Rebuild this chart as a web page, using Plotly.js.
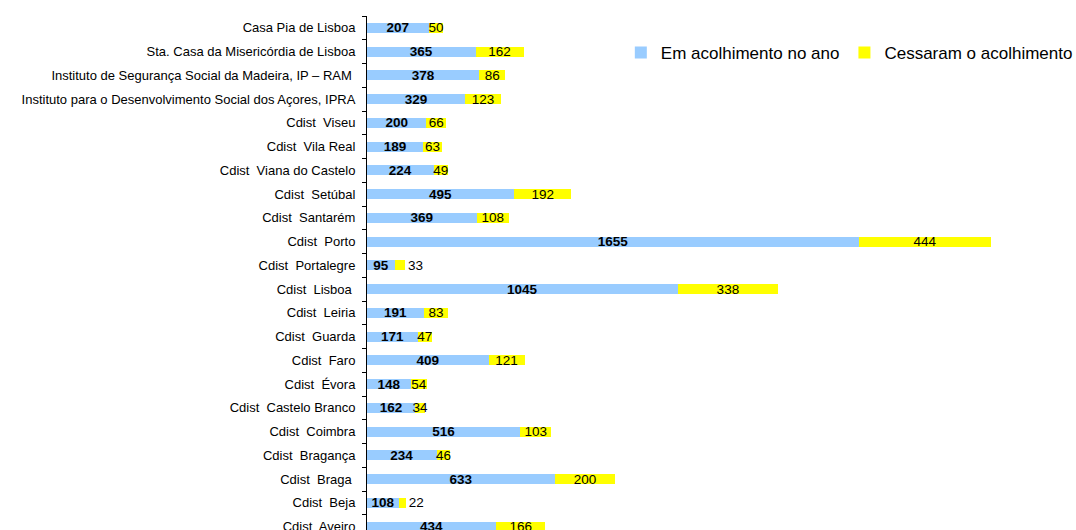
<!DOCTYPE html>
<html>
<head>
<meta charset="utf-8">
<script src="https://cdn.plot.ly/plotly-3.0.1.min.js"></script>
<style>
html,body{margin:0;padding:0;background:#fff;}
#chart{width:1076px;height:530px;}
</style>
</head>
<body>
<div id="chart"></div>
<script>
var categories = [
  "Casa Pia de Lisboa",
  "Sta. Casa da Misericórdia de Lisboa",
  "Instituto de Segurança Social da Madeira, IP – RAM ",
  "Instituto para o Desenvolvimento Social dos Açores, IPRA",
  "Cdist  Viseu",
  "Cdist  Vila Real",
  "Cdist  Viana do Castelo",
  "Cdist  Setúbal",
  "Cdist  Santarém",
  "Cdist  Porto",
  "Cdist  Portalegre",
  "Cdist  Lisboa ",
  "Cdist  Leiria",
  "Cdist  Guarda",
  "Cdist  Faro",
  "Cdist  Évora",
  "Cdist  Castelo Branco",
  "Cdist  Coimbra",
  "Cdist  Bragança",
  "Cdist  Braga ",
  "Cdist  Beja",
  "Cdist  Aveiro"
];
var emAcolhimento = [207, 365, 378, 329, 200, 189, 224, 495, 369, 1655, 95, 1045, 191, 171, 409, 148, 162, 516, 234, 633, 108, 434];
var cessaram = [50, 162, 86, 123, 66, 63, 49, 192, 108, 444, 33, 338, 83, 47, 121, 54, 34, 103, 46, 200, 22, 166];
var seriesNames = ["Em acolhimento no ano", "Cessaram o acolhimento"];

var FONT = "'Liberation Sans', Arial, sans-serif";

// rows whose tiny yellow segment has its label just past the bar end, as in the reference
var outsideLabelRows = ["Cdist  Portalegre", "Cdist  Beja"];
var cessaramTextPos = categories.map(function (c) {
  return outsideLabelRows.indexOf(c) >= 0 ? 'outside' : 'inside';
});

var traces = [
  {
    type: 'bar', orientation: 'h',
    name: seriesNames[0],
    y: categories, x: emAcolhimento,
    text: emAcolhimento.map(String),
    textposition: 'inside', insidetextanchor: 'middle',
    textangle: 0, constraintext: 'none',
    textfont: {family: FONT, size: 13.5, color: '#000', weight: 'bold'},
    marker: {color: '#99CCFF', line: {width: 0}},
    hoverinfo: 'skip'
  },
  {
    type: 'bar', orientation: 'h',
    name: seriesNames[1],
    y: categories, x: cessaram,
    text: cessaram.map(String),
    textposition: cessaramTextPos, insidetextanchor: 'middle',
    textangle: 0, constraintext: 'none', cliponaxis: false,
    textfont: {family: FONT, size: 13.5, color: '#000'},
    marker: {color: '#FFFF00', line: {width: 0}},
    hoverinfo: 'skip'
  }
];

var layout = {
  width: 1076, height: 530,
  barmode: 'stack',
  bargap: 0.58,
  paper_bgcolor: '#fff', plot_bgcolor: '#fff',
  font: {family: FONT, color: '#000'},
  margin: {l: 367, r: 0, t: 16, b: 0, pad: 0, autoexpand: false},
  uniformtext: {mode: 'show', minsize: 13.5},
  showlegend: true,
  legend: {
    orientation: 'h',
    xref: 'paper', yref: 'paper',
    x: 0.358, xanchor: 'left',
    y: 0.928, yanchor: 'middle',
    font: {family: FONT, size: 17, color: '#000'},
    bgcolor: 'rgba(0,0,0,0)',
    traceorder: 'normal'
  },
  xaxis: {
    range: [0, 2385],
    showgrid: false, zeroline: false, showline: false,
    showticklabels: false, ticks: '', fixedrange: true
  },
  yaxis: {
    type: 'category',
    range: [21.14, -0.5],
    showgrid: false, zeroline: false,
    showline: true, linecolor: '#000', linewidth: 1,
    ticks: 'outside', ticklen: 4, tickcolor: '#000', tickwidth: 1,
    tickson: 'boundaries',
    ticklabelstandoff: 8,
    tickfont: {family: FONT, size: 13, color: '#000'},
    fixedrange: true
  }
};

Plotly.newPlot('chart', traces, layout, {displayModeBar: false, staticPlot: true});
</script>
</body>
</html>
